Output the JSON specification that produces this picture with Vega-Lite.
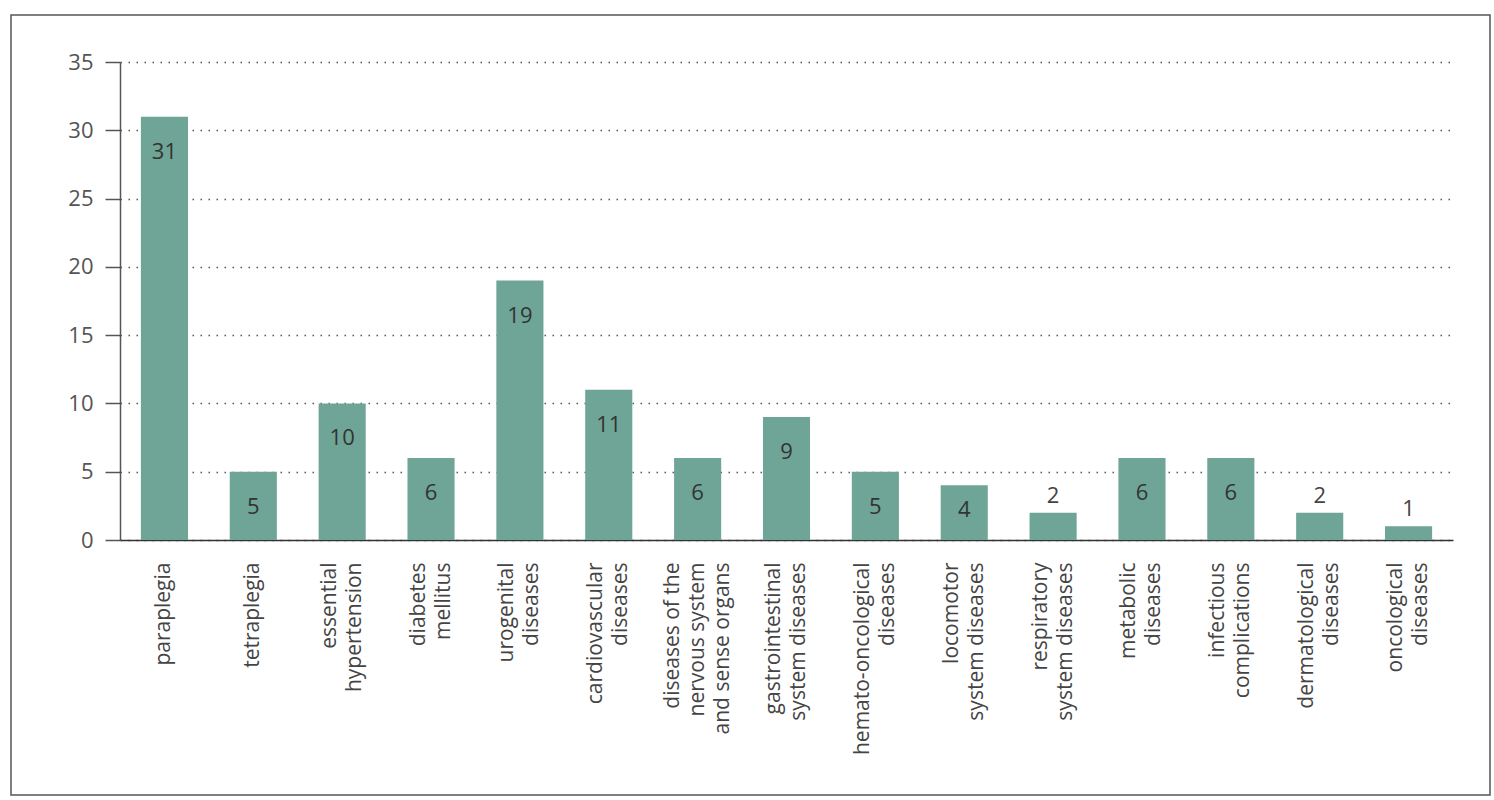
{
  "$schema": "https://vega.github.io/schema/vega-lite/v6.json",
  "description": "Number of patients by diagnosis group, bar chart with value labels.",
  "autosize": "none",
  "width": 1333,
  "height": 478,
  "padding": {"left": 120, "top": 62, "right": 41, "bottom": 260},
  "background": "white",
  "config": {
    "font": "Open Sans",
    "view": {"stroke": null},
    "axis": {"labelColor": "#555", "labelFont": "Open Sans"}
  },
  "data": {
    "values": [
      {"disease": "paraplegia", "count": 31},
      {"disease": "tetraplegia", "count": 5},
      {"disease": "essential|hypertension", "count": 10},
      {"disease": "diabetes|mellitus", "count": 6},
      {"disease": "urogenital|diseases", "count": 19},
      {"disease": "cardiovascular|diseases", "count": 11},
      {"disease": "diseases of the|nervous system|and sense organs", "count": 6},
      {"disease": "gastrointestinal|system diseases", "count": 9},
      {"disease": "hemato-oncological|diseases", "count": 5},
      {"disease": "locomotor|system diseases", "count": 4},
      {"disease": "respiratory|system diseases", "count": 2},
      {"disease": "metabolic|diseases", "count": 6},
      {"disease": "infectious|complications", "count": 6},
      {"disease": "dermatological|diseases", "count": 2},
      {"disease": "oncological|diseases", "count": 1}
    ]
  },
  "layer": [
    {
      "encoding": {
        "x": {
          "field": "disease",
          "type": "nominal",
          "sort": null,
          "scale": {"paddingInner": 0.47, "paddingOuter": 0.235},
          "axis": {
            "title": null,
            "labelExpr": "split(datum.label, '|')",
            "labelAngle": 270,
            "labelAlign": "right",
            "labelBaseline": "middle",
            "labelPadding": 22,
            "labelFontSize": 21,
            "labelLineHeight": 25,
            "labelLimit": 0,
            "labelColor": "#444",
            "labelOffset": {
              "condition": [
                {"test": "length(split(datum.value, '|')) == 3", "value": -25},
                {"test": "length(split(datum.value, '|')) == 2", "value": -12.5}
              ],
              "value": 0
            },
            "ticks": false,
            "domainColor": "#333",
            "domainWidth": 1.5
          }
        },
        "y": {
          "field": "count",
          "type": "quantitative",
          "scale": {"domain": [0, 35], "nice": false},
          "axis": {
            "title": null,
            "values": [0, 5, 10, 15, 20, 25, 30, 35],
            "labelFontSize": 22,
            "labelPadding": 12,
            "tickSize": 15,
            "tickColor": "#555",
            "tickWidth": 1.5,
            "domainColor": "#555",
            "domainWidth": 1.5,
            "grid": true,
            "gridColor": "#555",
            "gridWidth": 1.3,
            "gridDash": [1.5, 6.5]
          }
        }
      },
      "layer": [
        {
          "mark": {"type": "bar", "color": "#6ea596"}
        },
        {
          "transform": [{"filter": "datum.count >= 5"}],
          "mark": {"type": "text", "fontSize": 22, "color": "#333", "baseline": "middle", "dy": 35},
          "encoding": {"text": {"field": "count", "type": "quantitative"}}
        },
        {
          "transform": [{"filter": "datum.count >= 3 && datum.count < 5"}],
          "mark": {"type": "text", "fontSize": 22, "color": "#333", "baseline": "middle", "dy": 25},
          "encoding": {"text": {"field": "count", "type": "quantitative"}}
        },
        {
          "transform": [{"filter": "datum.count < 3"}],
          "mark": {"type": "text", "fontSize": 22, "color": "#444", "baseline": "middle", "dy": -17},
          "encoding": {"text": {"field": "count", "type": "quantitative"}}
        }
      ]
    },
    {
      "data": {"values": [{"frame": "outer"}]},
      "mark": {"type": "rect", "fill": null, "stroke": "#555", "strokeWidth": 1.5},
      "encoding": {
        "x": {"datum": 0, "type": "quantitative", "scale": {"domain": [0, 1], "range": [-109, 1370]}, "axis": null},
        "x2": {"datum": 1},
        "y": {"datum": 0, "type": "quantitative", "scale": {"domain": [0, 1], "range": [733, -47]}, "axis": null},
        "y2": {"datum": 1}
      }
    }
  ],
  "resolve": {"scale": {"x": "independent", "y": "independent"}}
}
